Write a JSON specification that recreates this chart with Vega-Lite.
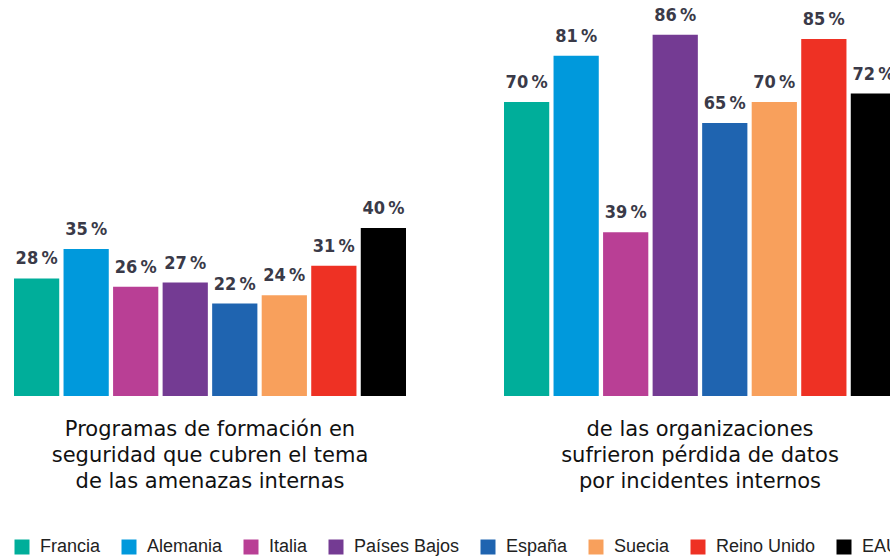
{
  "$schema": "https://vega.github.io/schema/vega-lite/v6.json",
  "autosize": "none",
  "width": 876,
  "height": 378,
  "padding": {"left": 14, "top": 18, "right": 0, "bottom": 164},
  "background": "white",
  "data": {
    "values": [
      {"grupo": "Programas de formación en|seguridad que cubren el tema|de las amenazas internas", "pais": "Francia", "valor": 28, "etiqueta": "28\u2009%"},
      {"grupo": "Programas de formación en|seguridad que cubren el tema|de las amenazas internas", "pais": "Alemania", "valor": 35, "etiqueta": "35\u2009%"},
      {"grupo": "Programas de formación en|seguridad que cubren el tema|de las amenazas internas", "pais": "Italia", "valor": 26, "etiqueta": "26\u2009%"},
      {"grupo": "Programas de formación en|seguridad que cubren el tema|de las amenazas internas", "pais": "Países Bajos", "valor": 27, "etiqueta": "27\u2009%"},
      {"grupo": "Programas de formación en|seguridad que cubren el tema|de las amenazas internas", "pais": "España", "valor": 22, "etiqueta": "22\u2009%"},
      {"grupo": "Programas de formación en|seguridad que cubren el tema|de las amenazas internas", "pais": "Suecia", "valor": 24, "etiqueta": "24\u2009%"},
      {"grupo": "Programas de formación en|seguridad que cubren el tema|de las amenazas internas", "pais": "Reino Unido", "valor": 31, "etiqueta": "31\u2009%"},
      {"grupo": "Programas de formación en|seguridad que cubren el tema|de las amenazas internas", "pais": "EAU", "valor": 40, "etiqueta": "40\u2009%"},
      {"grupo": "de las organizaciones|sufrieron pérdida de datos|por incidentes internos", "pais": "Francia", "valor": 70, "etiqueta": "70\u2009%"},
      {"grupo": "de las organizaciones|sufrieron pérdida de datos|por incidentes internos", "pais": "Alemania", "valor": 81, "etiqueta": "81\u2009%"},
      {"grupo": "de las organizaciones|sufrieron pérdida de datos|por incidentes internos", "pais": "Italia", "valor": 39, "etiqueta": "39\u2009%"},
      {"grupo": "de las organizaciones|sufrieron pérdida de datos|por incidentes internos", "pais": "Países Bajos", "valor": 86, "etiqueta": "86\u2009%"},
      {"grupo": "de las organizaciones|sufrieron pérdida de datos|por incidentes internos", "pais": "España", "valor": 65, "etiqueta": "65\u2009%"},
      {"grupo": "de las organizaciones|sufrieron pérdida de datos|por incidentes internos", "pais": "Suecia", "valor": 70, "etiqueta": "70\u2009%"},
      {"grupo": "de las organizaciones|sufrieron pérdida de datos|por incidentes internos", "pais": "Reino Unido", "valor": 85, "etiqueta": "85\u2009%"},
      {"grupo": "de las organizaciones|sufrieron pérdida de datos|por incidentes internos", "pais": "EAU", "valor": 72, "etiqueta": "72\u2009%"}
    ]
  },
  "encoding": {
    "x": {
      "field": "grupo",
      "type": "nominal",
      "sort": null,
      "scale": {"range": [0, 882], "paddingInner": 0.2, "paddingOuter": 0},
      "axis": {
        "title": null,
        "domain": false,
        "ticks": false,
        "labelAngle": 0,
        "labelExpr": "split(datum.label, '|')",
        "labelFont": "DejaVu Sans",
        "labelFontSize": 21,
        "labelLineHeight": 26,
        "labelColor": "#111111",
        "labelPadding": 22,
        "labelBaseline": "top",
        "labelLimit": 0
      }
    },
    "xOffset": {
      "field": "pais",
      "type": "nominal",
      "sort": ["Francia", "Alemania", "Italia", "Países Bajos", "España", "Suecia", "Reino Unido", "EAU"],
      "scale": {"paddingInner": 0.087, "paddingOuter": 0}
    },
    "y": {
      "field": "valor",
      "type": "quantitative",
      "scale": {"domain": [0, 90], "nice": false},
      "axis": null
    }
  },
  "layer": [
    {
      "mark": {"type": "bar"},
      "encoding": {
        "color": {
          "field": "pais",
          "type": "nominal",
          "sort": ["Francia", "Alemania", "Italia", "Países Bajos", "España", "Suecia", "Reino Unido", "EAU"],
          "scale": {
            "domain": ["Francia", "Alemania", "Italia", "Países Bajos", "España", "Suecia", "Reino Unido", "EAU"],
            "range": ["#00ae9a", "#0099dc", "#b93f95", "#743b93", "#1f64b0", "#f8a05c", "#ee3124", "#000000"]
          },
          "legend": {
            "title": null,
            "orient": "none",
            "legendX": -1,
            "legendY": 520,
            "direction": "horizontal",
            "columns": 8,
            "padding": 0,
            "symbolType": "square",
            "symbolSize": 225,
            "symbolStrokeWidth": 0,
            "symbolOpacity": 1,
            "labelFont": "Liberation Sans",
            "labelFontSize": 18,
            "labelColor": "#222222",
            "labelOffset": 9,
            "columnPadding": 19,
            "labelLimit": 0
          }
        }
      }
    },
    {
      "mark": {
        "type": "text",
        "baseline": "alphabetic",
        "dy": -14,
        "font": "Liberation Sans Narrow, Noto Sans Condensed, DejaVu Sans Condensed, sans-serif",
        "fontWeight": "bold",
        "fontSize": 18,
        "color": "#3a3a48"
      },
      "encoding": {"text": {"field": "etiqueta"}}
    }
  ],
  "config": {"view": {"stroke": null}}
}
